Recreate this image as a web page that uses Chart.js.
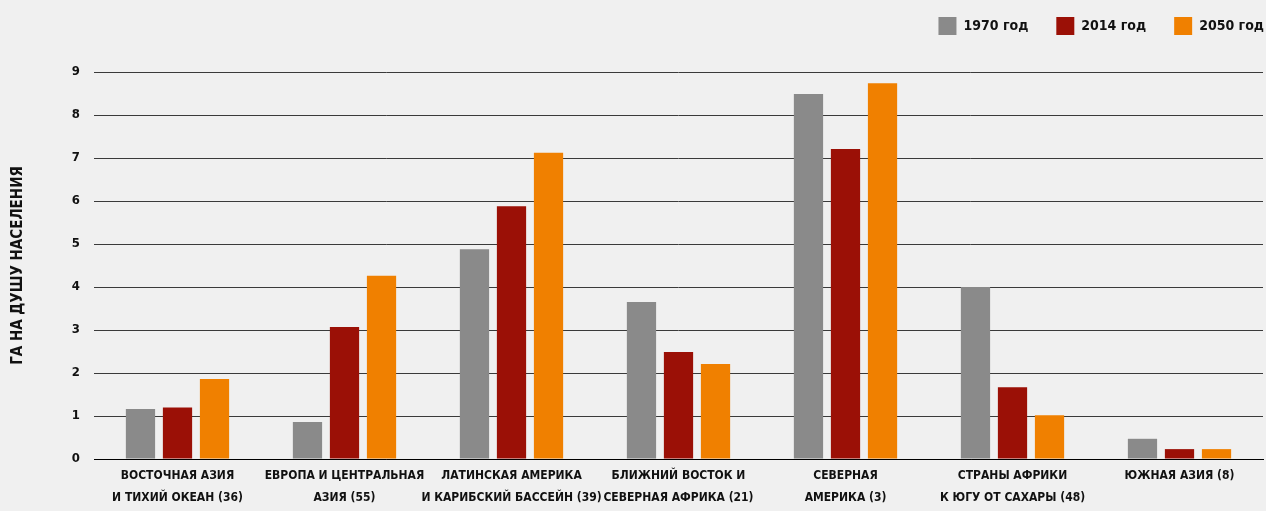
<!DOCTYPE html>
<html>
<head>
<meta charset="utf-8">
<script src="https://cdn.jsdelivr.net/npm/chart.js@4"></script>
<style>
  html, body { margin: 0; padding: 0; background: #f0f0f0; }
  #wrap { width: 1266px; height: 511px; }
</style>
</head>
<body>
<div id="wrap"><canvas id="chart" width="1266" height="511"></canvas></div>
<script>
const regions = [
  ['ВОСТОЧНАЯ АЗИЯ', 'И ТИХИЙ ОКЕАН (36)'],
  ['ЕВРОПА И ЦЕНТРАЛЬНАЯ', 'АЗИЯ (55)'],
  ['ЛАТИНСКАЯ АМЕРИКА', 'И КАРИБСКИЙ БАССЕЙН (39)'],
  ['БЛИЖНИЙ ВОСТОК И', 'СЕВЕРНАЯ АФРИКА (21)'],
  ['СЕВЕРНАЯ', 'АМЕРИКА (3)'],
  ['СТРАНЫ АФРИКИ', 'К ЮГУ ОТ САХАРЫ (48)'],
  ['ЮЖНАЯ АЗИЯ (8)']
];
const values1970 = [1.16, 0.86, 4.88, 3.65, 8.49, 4.0, 0.47];
const values2014 = [1.2, 3.07, 5.88, 2.49, 7.21, 1.67, 0.23];
const values2050 = [1.86, 4.26, 7.12, 2.21, 8.74, 1.02, 0.23];
const yTicks = [0, 1, 2, 3, 4, 5, 6, 7, 8, 9];

const FONT = "'DejaVu Sans Condensed', 'Liberation Sans Narrow', sans-serif";

const bg = {
  id: 'bg',
  beforeDraw(chart) {
    const ctx = chart.ctx;
    ctx.save();
    ctx.fillStyle = '#f0f0f0';
    ctx.fillRect(0, 0, chart.width, chart.height);
    ctx.restore();
  }
};

// nudge legend up and to the right edge, like the original layout
const legendShift = {
  id: 'legendShift',
  afterLayout(chart) {
    const lg = chart.legend;
    if (!lg) return;
    lg.top -= 27;
    lg.bottom -= 27;
    lg.right += 29;
  }
};

new Chart(document.getElementById('chart'), {
  type: 'bar',
  data: {
    labels: regions,
    datasets: [
      { label: '1970 год', data: values1970, backgroundColor: '#8a8a8a', borderWidth: 0 },
      { label: '2014 год', data: values2014, backgroundColor: '#9b1006', borderWidth: 0 },
      { label: '2050 год', data: values2050, backgroundColor: '#f08000', borderWidth: 0 }
    ]
  },
  options: {
    responsive: false,
    animation: false,
    categoryPercentage: 0.665,
    barPercentage: 0.79,
    layout: { padding: { top: 16, right: 3, left: 0, bottom: 0 } },
    plugins: {
      tooltip: { enabled: false },
      legend: {
        position: 'top',
        align: 'end',
        labels: {
          boxWidth: 18,
          boxHeight: 18,
          padding: 28,
          color: '#111',
          font: { family: FONT, size: 14, weight: 'bold' }
        }
      }
    },
    scales: {
      x: {
        grid: { display: false, drawTicks: false },
        border: { display: true, color: '#000', width: 1 },
        ticks: {
          color: '#111',
          padding: 6,
          maxRotation: 0,
          autoSkip: false,
          font: { family: FONT, size: 12, weight: 'bold', lineHeight: 1.85 }
        },
        afterFit(scale) { scale.height = 52; }
      },
      y: {
        min: 0,
        max: 9,
        afterBuildTicks(scale) { scale.ticks = yTicks.map(v => ({ value: v })); },
        grid: { color: '#3a3a3a', lineWidth: 1, drawTicks: false },
        border: { display: false },
        ticks: {
          color: '#111',
          padding: 14,
          font: { family: FONT, size: 13, weight: 'bold' }
        },
        title: {
          display: true,
          text: 'ГА НА ДУШУ НАСЕЛЕНИЯ',
          color: '#111',
          padding: { top: 9, bottom: 0 },
          font: { family: FONT, size: 15, weight: 'bold' }
        },
        afterFit(scale) { scale.width = 94; }
      }
    }
  },
  plugins: [bg, legendShift]
});
</script>
</body>
</html>
